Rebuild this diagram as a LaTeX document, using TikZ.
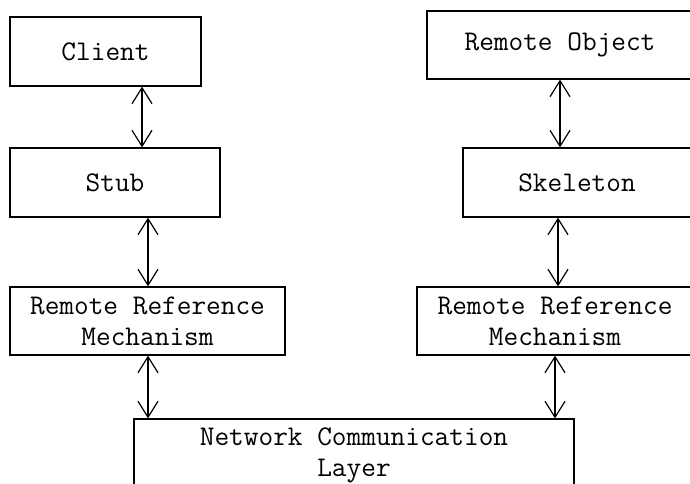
\documentclass[tikz,border=0pt]{standalone}
\usepackage{fontspec}
\usetikzlibrary{arrows.meta}
\begin{document}
\begin{tikzpicture}[x=1pt,y=-1pt,
  box/.style={draw,line width=1.2pt,rectangle,inner sep=0pt,font=\ttfamily\fontsize{28.5}{31}\selectfont,align=center},
  link/.style={line width=1.2pt,{Straight Barb[length=16pt,width=20pt]}-{Straight Barb[length=16pt,width=20pt]}}]
\useasboundingbox (0,0) rectangle (690,484);
\clip (0,0) rectangle (690,484);
\fill[white] (0,0) rectangle (690,484);
\node[box,minimum width=191pt,minimum height=69pt] (client) at (105.5,51.5) {Client};
\node[box,minimum width=210pt,minimum height=69pt] (stub) at (115,182.5) {Stub};
\node[box,minimum width=275pt,minimum height=68pt] (rrmL) at (147.5,321) {Remote Reference\\Mechanism};
\node[box,minimum width=440pt,minimum height=72pt] (net) at (354,455) {Network Communication\\Layer};
\node[box,minimum width=266pt,minimum height=68pt] (robj) at (560,45) {Remote Object};
\node[box,minimum width=228pt,minimum height=69pt] (skel) at (577,182.5) {Skeleton};
\node[box,minimum width=276pt,minimum height=68pt] (rrmR) at (555,321) {Remote Reference\\Mechanism};
\draw[link] (client.south -| 142,0) -- (stub.north -| 142,0);
\draw[link] (stub.south -| 148,0) -- (rrmL.north -| 148,0);
\draw[link] (rrmL.south -| 148,0) -- (net.north -| 148,0);
\draw[link] (robj.south -| 560,0) -- (skel.north -| 560,0);
\draw[link] (skel.south -| 558,0) -- (rrmR.north -| 558,0);
\draw[link] (rrmR.south -| 555,0) -- (net.north -| 555,0);
\end{tikzpicture}
\end{document}
